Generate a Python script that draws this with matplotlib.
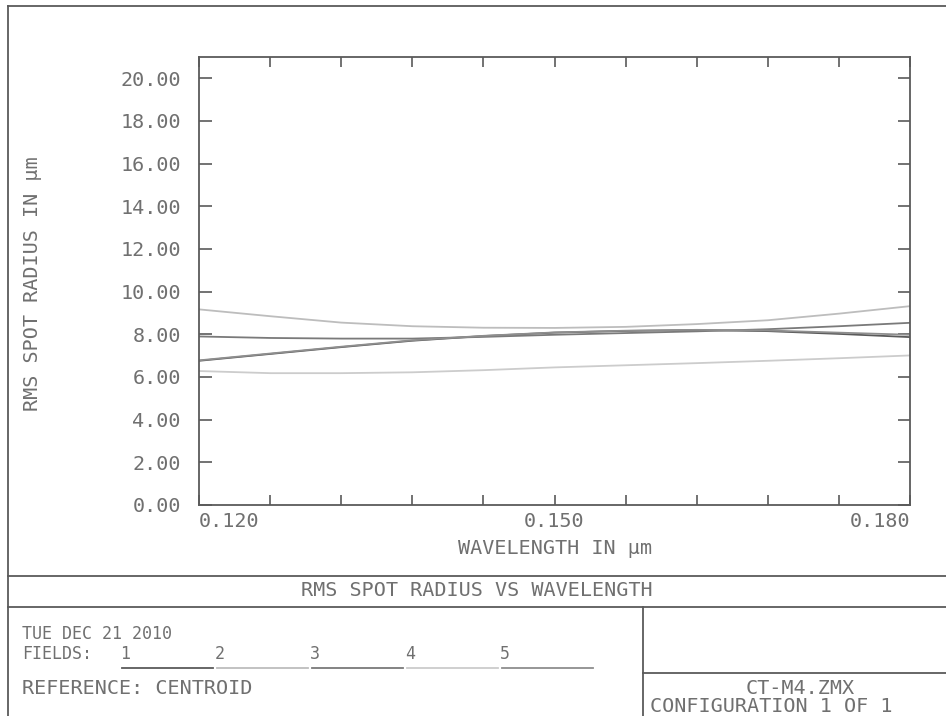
import matplotlib
matplotlib.use("Agg")
import matplotlib.pyplot as plt
from matplotlib.lines import Line2D

# wavelengths (um) and RMS spot radius (um) per field
wavelength = [0.120, 0.126, 0.132, 0.138, 0.144, 0.150, 0.156, 0.162, 0.168, 0.174, 0.180]
field1 = [6.76, 7.08, 7.40, 7.70, 7.92, 8.08, 8.16, 8.20, 8.15, 8.02, 7.87]
field2 = [9.17, 8.85, 8.55, 8.38, 8.31, 8.30, 8.35, 8.48, 8.66, 8.97, 9.32]
field3 = [7.90, 7.83, 7.80, 7.80, 7.88, 7.98, 8.06, 8.14, 8.24, 8.38, 8.54]
field4 = [6.28, 6.18, 6.18, 6.22, 6.32, 6.45, 6.55, 6.65, 6.76, 6.88, 7.01]
field5 = [6.78, 7.10, 7.42, 7.72, 7.93, 8.09, 8.17, 8.21, 8.18, 8.08, 7.98]
fields = [field1, field2, field3, field4, field5]
field_names = ["1", "2", "3", "4", "5"]
colors = ["#5a5a5a", "#bdbdbd", "#7a7a7a", "#cccccc", "#8e8e8e"]

W, H = 946, 716
txt = "#707070"
edge = "#5a5a5a"
font = "DejaVu Sans Mono"
fs = 14.5
fs_small = 12

fig = plt.figure(figsize=(W / 100, H / 100), dpi=100)


def fx(px):
    return px / W


def fy(py):
    return 1 - py / H


def hline(x0, x1, y, c=edge, lw=1.3):
    fig.add_artist(Line2D([fx(x0), fx(x1)], [fy(y), fy(y)], color=c, lw=lw,
                          transform=fig.transFigure))


def vline(x, y0, y1, c=edge, lw=1.3):
    fig.add_artist(Line2D([fx(x), fx(x)], [fy(y0), fy(y1)], color=c, lw=lw,
                          transform=fig.transFigure))


def label(x, y, s, ha="left", size=fs, **kw):
    fig.text(fx(x), fy(y), s, ha=ha, va="center", color=txt, family=font,
             fontsize=size, **kw)


ax = fig.add_axes([fx(199), fy(505), fx(910) - fx(199), fy(57) - fy(505)])
for vals, c in zip(fields, colors):
    ax.plot(wavelength, vals, color=c, lw=1.3)

ax.set_xlim(0.120, 0.180)
ax.set_ylim(0, 21)
ax.set_yticks(range(0, 21, 2))
ax.set_yticklabels([f"{v:.2f}" for v in range(0, 21, 2)], family=font,
                   fontsize=fs, color=txt)
ax.set_xticks([0.120, 0.150, 0.180])
ax.set_xticklabels(["0.120", "0.150", "0.180"], family=font, fontsize=fs, color=txt)
ax.set_xticks(wavelength, minor=True)
for lab, ha in zip(ax.get_xticklabels(), ["left", "center", "right"]):
    lab.set_horizontalalignment(ha)
ax.tick_params(axis="both", which="both", direction="in", top=True, right=True,
               color=edge, width=1.2)
ax.tick_params(axis="y", length=9, pad=13)
ax.tick_params(axis="x", which="both", length=7, pad=5)
for sp in ax.spines.values():
    sp.set_color(edge)
    sp.set_linewidth(1.3)

label(555, 549, "WAVELENGTH IN \u03bcm", ha="center")
fig.text(fx(33), fy(284), "RMS SPOT RADIUS IN \u03bcm", rotation=90, ha="center",
         va="center", color=txt, family=font, fontsize=fs)

# frame and title block
hline(8, W, 6)
vline(8, 6, H)
hline(8, W, 576)
hline(8, W, 607)
vline(643, 607, H)
hline(643, W, 673)

label(477, 591, "RMS SPOT RADIUS VS WAVELENGTH", ha="center")
label(22, 634, "TUE DEC 21 2010", size=fs_small)
label(22, 654, "FIELDS:", size=fs_small)
for i, (name, c) in enumerate(zip(field_names, colors)):
    x0 = 122 + i * 95
    label(x0 - 2, 654, name, size=fs_small)
    hline(x0, x0 + 91, 668, c=c, lw=1.3)
label(22, 688, "REFERENCE: CENTROID")
label(800, 689, "CT-M4.ZMX", ha="center")
label(650, 707, "CONFIGURATION 1 OF 1")

fig.savefig("out.png", dpi=100)
